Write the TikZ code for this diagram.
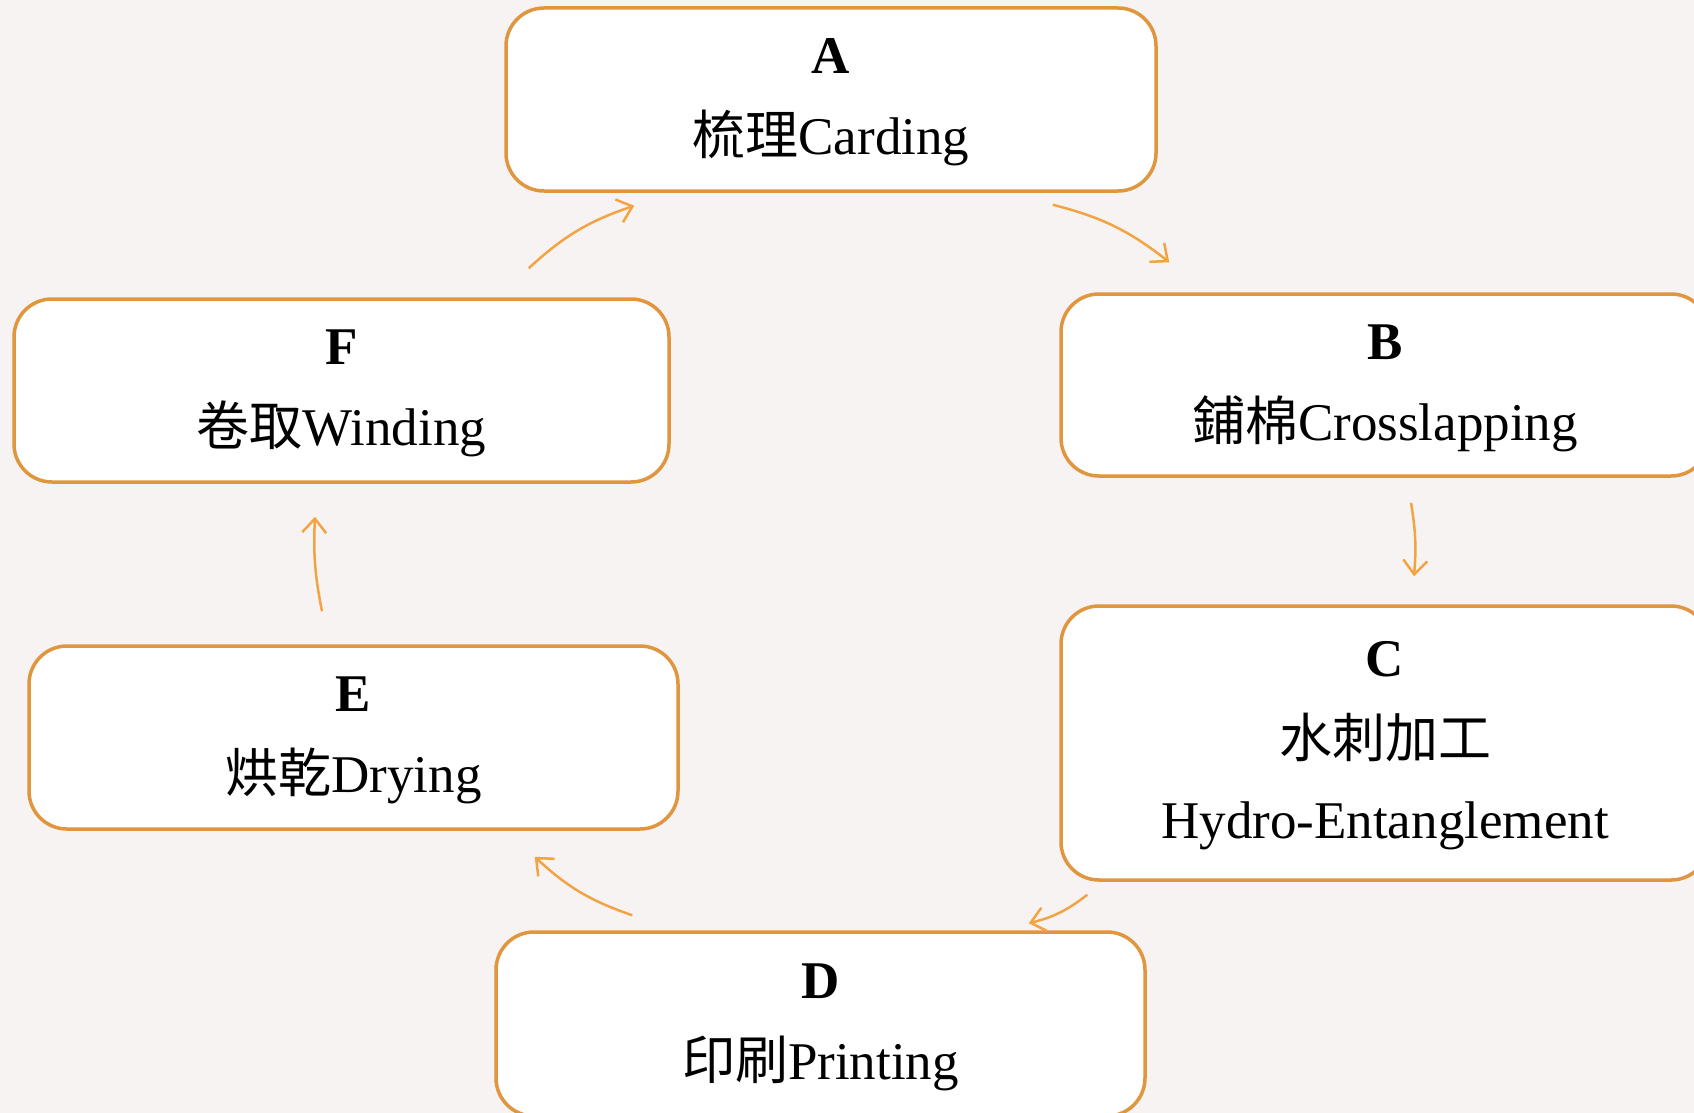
\documentclass[tikz,border=0pt]{standalone}
\usepackage{fontspec}
\setmainfont{Liberation Serif}
\newfontfamily\cjk{Noto Sans CJK TC}
\usetikzlibrary{arrows.meta,calc}
\definecolor{bgc}{HTML}{F7F3F2}
\definecolor{boxline}{HTML}{E0963F}
\definecolor{arrc}{HTML}{F2A444}
% tall strut on the first line pushes the text block slightly down
\newcommand{\toprow}[1]{\rule{0pt}{41pt}\textbf{#1}}
\tikzset{
  stage/.style={draw=boxline, line width=3.5pt, fill=white, rounded corners=38pt,
    inner sep=0pt, align=center, font=\fontsize{53}{81}\selectfont},
  flow/.style={draw=arrc, line width=2.5pt, bend left=12,
    -{Straight Barb[length=14pt,width=24pt,line width=2.5pt]}}
}
\begin{document}
\begin{tikzpicture}[x=1pt,y=-1pt]
  \useasboundingbox (0,0) rectangle (1694,1113);
  \fill[bgc] (0,0) rectangle (1694,1113);
  \clip (0,0) rectangle (1694,1113);

  \node[stage, minimum width=650pt, minimum height=183pt] (A) at (831,99.5)
    {\toprow{A}\\{\cjk 梳理}Carding};
  \node[stage, minimum width=648pt, minimum height=182pt] (B) at (1385,385)
    {\toprow{B}\\{\cjk 鋪棉}Crosslapping};
  \node[stage, minimum width=648pt, minimum height=274pt] (C) at (1385,743)
    {\toprow{C}\\{\cjk 水刺加工}\\Hydro-Entanglement};
  \node[stage, minimum width=649pt, minimum height=184pt] (D) at (820.5,1024)
    {\toprow{D}\\{\cjk 印刷}Printing};
  \node[stage, minimum width=649pt, minimum height=183pt] (E) at (353.5,737.5)
    {\toprow{E}\\{\cjk 烘乾}Drying};
  \node[stage, minimum width=655pt, minimum height=183pt] (F) at (341.5,390.5)
    {\toprow{F}\\{\cjk 卷取}Winding};

  \draw[flow] ($(A.south east)+(-105,12)$) to ($(B.north west)+(110,-30)$);
  \draw[flow, bend left=7] ($(B.south)+(26,25)$) to ($(C.north)+(29,-28)$);
  \draw[flow] ($(C.south west)+(28,13)$) to ($(D.north east)+(-118,-7)$);
  \draw[flow] ($(D.north west)+(138,-15)$) to ($(E.south east)+(-145,26)$);
  \draw[flow, bend left=7] ($(E.north)+(-31.5,-33)$) to ($(F.south)+(-26.5,33)$);
  \draw[flow] ($(F.north east)+(-142,-29)$) to ($(A.south west)+(130,13)$);
\end{tikzpicture}
\end{document}
